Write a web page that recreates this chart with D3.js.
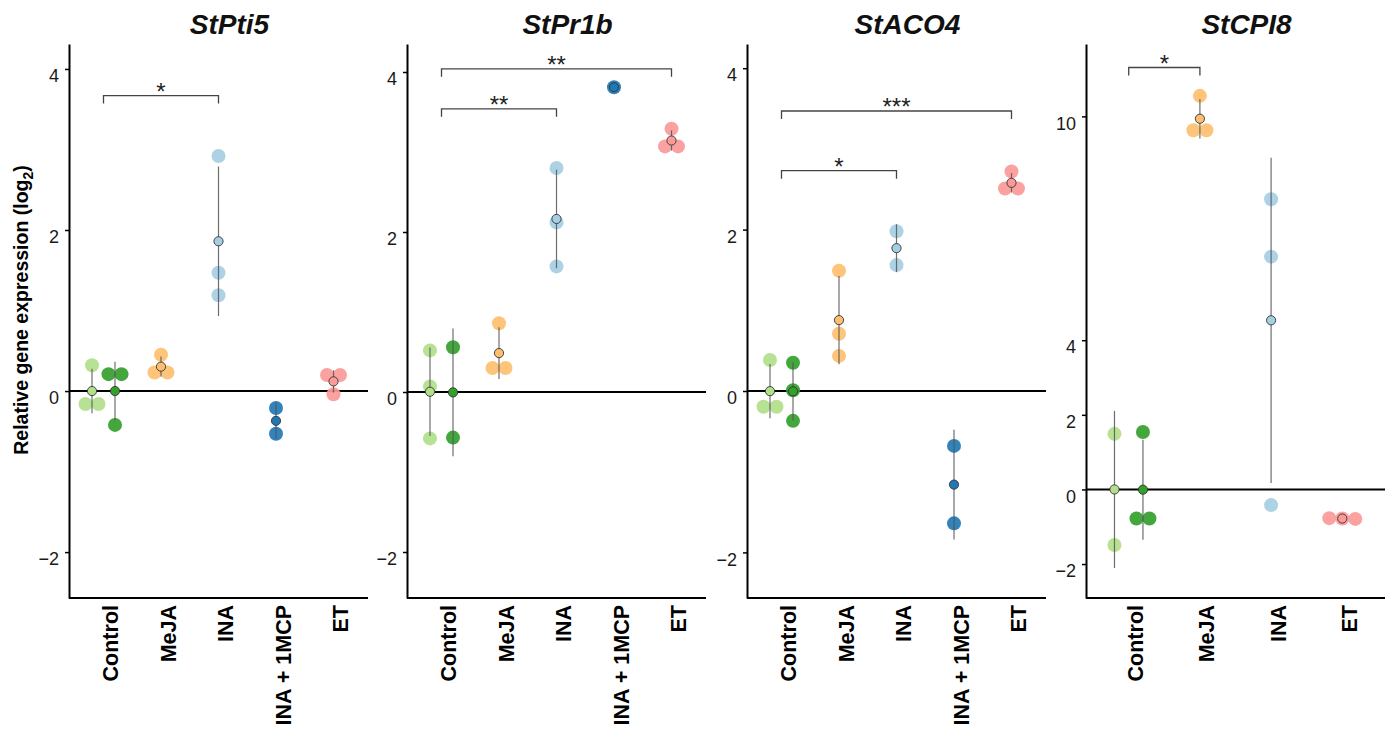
<!DOCTYPE html>
<html><head><meta charset="utf-8">
<script src="https://cdn.jsdelivr.net/npm/d3@7"></script>
<style>body{margin:0;background:#fff} svg{display:block}</style>
</head><body>
<svg id="c" width="1390" height="731"></svg>
<script>
// ---------- data ----------
const genes = ["StPti5", "StPr1b", "StACO4", "StCPI8"];
const categoriesFive = ["Control", "MeJA", "INA", "INA + 1MCP", "ET"];
const categoriesFour = ["Control", "MeJA", "INA", "ET"];
const seriesCategory = ["Control", "Control", "MeJA", "INA", "INA + 1MCP", "ET"];
const seriesColors = ["#b2df8a", "#33a02c", "#fdbf6f", "#a6cee3", "#1f78b4", "#fb9a99"];

// replicate values (log2 relative expression), one array per series
const pti5Values = [[0.32, -0.16, -0.16], [0.21, 0.21, -0.42], [0.45, 0.23, 0.23], [2.92, 1.47, 1.19], [-0.21, -0.53], [0.20, 0.20, -0.04]];
const pr1bValues = [[0.52, 0.07, -0.58], [0.56, -0.57], [0.86, 0.30, 0.30], [2.80, 2.12, 1.57], [3.81], [3.29, 3.07, 3.07]];
const aco4Values = [[0.385, -0.195, -0.195], [0.35, 0.01, -0.37], [1.49, 0.71, 0.435], [1.98, 1.56], [-0.68, -1.64], [2.72, 2.51, 2.51]];
const cpi8Values = [[1.49, -1.49], [1.54, -0.78, -0.78], [10.55, 9.63, 9.63], [7.78, 6.24, -0.42], null, [-0.77, -0.78, -0.79]];

// significance brackets: [from, to, level, label]
const pti5Brackets = [["Control", "INA", 3.67, "*"]];
const pr1bBrackets = [["Control", "INA", 3.54, "**"], ["Control", "ET", 4.04, "**"]];
const aco4Brackets = [["Control", "INA", 2.73, "*"], ["Control", "ET", 3.47, "***"]];
const cpi8Brackets = [["Control", "MeJA", 11.31, "*"]];

// axis limits and tick labels
const yLimits = [[-2.57, 4.31], [-2.575, 4.35], [-2.565, 4.30], [-2.91, 11.94]];
const yTicks = [[-2, 0, 2, 4], [-2, 0, 2, 4], [-2, 0, 2, 4], [-2, 0, 2, 4, 10]];
const yTitle = "Relative gene expression (log";
const yTitleSub = "2";

// ---------- layout ----------
const FONT = "'Liberation Sans', Arial, Helvetica, sans-serif";
const panelLeft = [69, 407, 747, 1086];
const panelWidth = 299;
const plotTop = 44, plotBottom = 598;
const allValues = [pti5Values, pr1bValues, aco4Values, cpi8Values];
const allBrackets = [pti5Brackets, pr1bBrackets, aco4Brackets, cpi8Brackets];
const allCats = [categoriesFive, categoriesFive, categoriesFive, categoriesFour];
const R = 7, SPACING = 13, RM = 4.6;
const fmt = d3.format("d");

const svg = d3.select("#c");

genes.forEach((gene, i) => {
  const left = panelLeft[i], right = left + panelWidth;
  const cats = allCats[i];
  const x = d3.scalePoint().domain(cats).range([left, right]).padding(0.6);
  const step = x.step();
  const y = d3.scaleLinear().domain(yLimits[i]).range([plotBottom, plotTop]);
  const g = svg.append("g");

  // title
  g.append("text").attr("x", (left + right) / 2 + 11).attr("y", 33.6)
    .attr("text-anchor", "middle").attr("font-family", FONT)
    .attr("font-size", 28).attr("font-weight", "bold").attr("font-style", "italic")
    .attr("fill", "#111").text(gene);

  // y axis
  const ya = g.append("g").attr("transform", `translate(${left},0)`)
    .call(d3.axisLeft(y).tickValues(yTicks[i]).tickFormat(fmt).tickSize(4).tickPadding(6).tickSizeOuter(0));
  ya.select(".domain").attr("stroke", "#000").attr("stroke-width", 2);
  ya.selectAll(".tick line").attr("stroke", "#000").attr("stroke-width", 1.5);
  ya.selectAll(".tick text").attr("y", 7).attr("font-family", FONT).attr("font-size", 18).attr("fill", "#1a1a1a");

  // x axis line
  g.append("line").attr("x1", left).attr("x2", right).attr("y1", plotBottom).attr("y2", plotBottom)
    .attr("stroke", "#000").attr("stroke-width", 2);
  // x labels
  g.selectAll("text.xl").data(cats).enter().append("text").attr("class", "xl")
    .attr("transform", d => `translate(${x(d) + 7},605) rotate(-90)`)
    .attr("dy", "0.35em").attr("text-anchor", "end")
    .attr("font-family", FONT).attr("font-size", 21.5).attr("font-weight", "bold").attr("fill", "#000")
    .text(d => d);

  // zero line
  g.append("line").attr("x1", left).attr("x2", right).attr("y1", y(0)).attr("y2", y(0))
    .attr("stroke", "#000").attr("stroke-width", 2);

  // series
  allValues[i].forEach((vals, s) => {
    if (!vals) return;
    let cx = x(seriesCategory[s]);
    if (s === 0) cx -= 0.2 * step;
    if (s === 1) cx += 0.2 * step;
    const color = seriesColors[s];
    const sorted = vals.slice().sort((a, b) => b - a);
    const bins = [];
    sorted.forEach(v => {
      const last = bins[bins.length - 1];
      if (last && Math.abs(y(v) - y(last[0])) < 10) last.push(v); else bins.push([v]);
    });
    const pts = [];
    bins.forEach(b => b.forEach((v, k) => pts.push({ v, dx: (k - (b.length - 1) / 2) * SPACING })));
    g.selectAll(null).data(pts).enter().append("circle")
      .attr("cx", d => cx + d.dx).attr("cy", d => y(d.v)).attr("r", R)
      .attr("fill", color).attr("fill-opacity", 0.92);
    const m = d3.mean(vals);
    if (vals.length > 1) {
      const sd = d3.deviation(vals);
      g.append("line").attr("x1", cx).attr("x2", cx).attr("y1", y(m + sd)).attr("y2", y(m - sd))
        .attr("stroke", "#555").attr("stroke-width", 1.2).attr("stroke-opacity", 0.85);
    }
    g.append("circle").attr("cx", cx).attr("cy", y(m)).attr("r", RM)
      .attr("fill", color).attr("stroke", "#333").attr("stroke-width", 0.9);
  });

  // brackets
  allBrackets[i].forEach(([a, b, lev, lab]) => {
    const x1 = x(a), x2 = x(b), yb = y(lev);
    g.append("path").attr("d", `M${x1},${yb + 8}V${yb}H${x2}V${yb + 8}`)
      .attr("fill", "none").attr("stroke", "#444").attr("stroke-width", 1.3);
    g.append("text").attr("x", (x1 + x2) / 2).attr("y", yb + 4.5)
      .attr("text-anchor", "middle").attr("font-family", FONT).attr("font-size", 24)
      .attr("fill", "#222").text(lab);
  });
});

// y title
const yt = svg.append("text").attr("transform", "translate(28,310) rotate(-90)")
  .attr("text-anchor", "middle").attr("font-family", FONT).attr("font-size", 19.5)
  .attr("font-weight", "bold").attr("fill", "#000");
yt.append("tspan").text(yTitle);
yt.append("tspan").attr("dy", 5).attr("font-size", 14).text(yTitleSub);
yt.append("tspan").attr("dy", -5).text(")");
</script>
</body></html>
